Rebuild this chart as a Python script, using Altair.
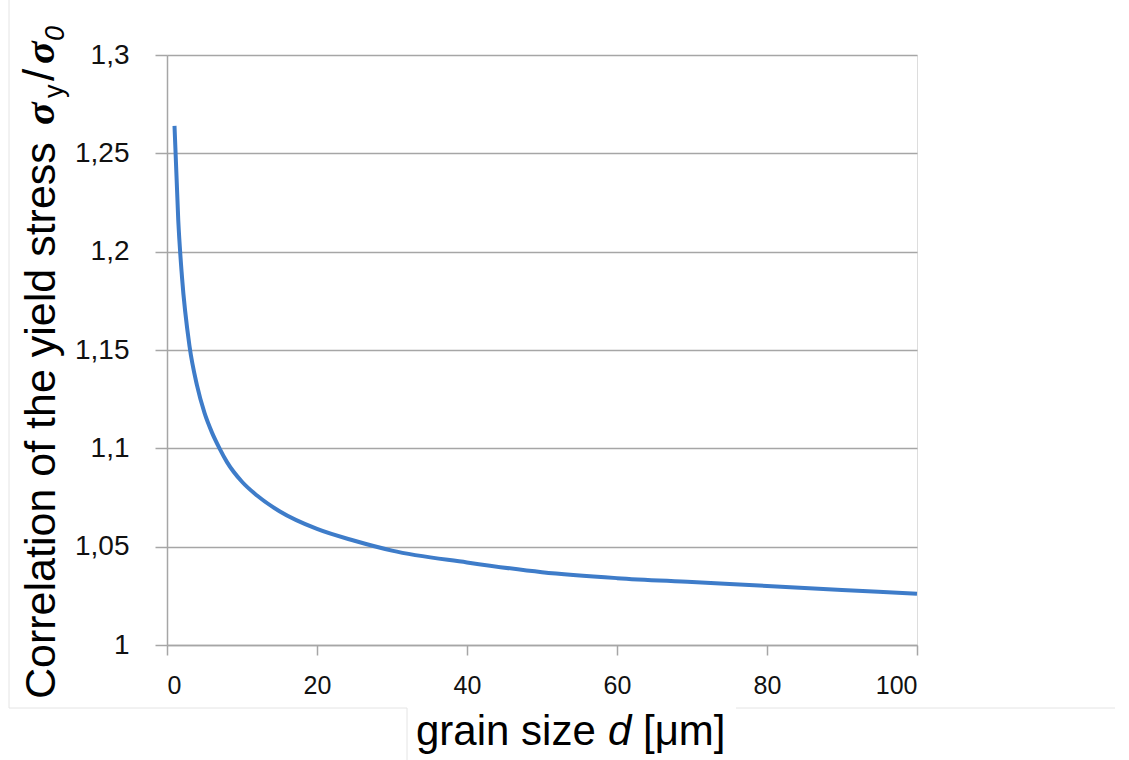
import altair as alt
import pandas as pd

# ---- data ----
grain_size = [1, 1.5, 2, 3, 4, 5, 6, 7, 8, 10, 12, 15, 20, 25, 30, 40, 50, 60, 70, 80, 90, 100]
yield_ratio = [1.264, 1.216, 1.187, 1.152, 1.132, 1.118, 1.108, 1.100, 1.093, 1.083, 1.076,
               1.068, 1.059, 1.053, 1.048, 1.042, 1.037, 1.034, 1.032, 1.030, 1.028, 1.026]
x_ticks = [0, 20, 40, 60, 80, 100]
y_ticks = [1.0, 1.05, 1.1, 1.15, 1.2, 1.25, 1.3]

y_title_main = "Correlation of the yield stress"
x_title_parts = ["grain size", "d", "[μm]"]

df = pd.DataFrame({"d": grain_size, "r": yield_ratio})

GRID = "#a6a6a6"
SANS = "Liberation Sans, Arial, sans-serif"

x_enc = alt.X("d:Q", scale=alt.Scale(domain=[0, 100], nice=False),
              axis=alt.Axis(values=x_ticks, title=None, grid=False,
                            domainColor=GRID, domainWidth=1.5,
                            tickColor=GRID, tickWidth=1.5, tickSize=10,
                            labelFont=SANS, labelFontSize=25, labelColor="#111111",
                            labelPadding=18))
y_enc = alt.Y("r:Q", scale=alt.Scale(domain=[1.0, 1.3], nice=False, zero=False),
              axis=alt.Axis(values=y_ticks, title=None, grid=True,
                            gridColor=GRID, gridWidth=1.5,
                            domainColor=GRID, domainWidth=1.5,
                            tickColor=GRID, tickWidth=1.5, tickSize=12,
                            labelFont=SANS, labelFontSize=28, labelColor="#111111",
                            labelPadding=26,
                            labelExpr="replace(format(datum.value, '.2~f'), '.', ',')"))

line = alt.Chart(df).mark_line(color="#3e7cc9", strokeWidth=4, interpolate="monotone").encode(
    x=x_enc, y=y_enc)


def txt(s, x, y, size, angle=0, font=SANS, weight="normal", style="normal"):
    return alt.Chart(pd.DataFrame({"t": [s]})).mark_text(
        align="left", baseline="alphabetic", angle=angle, font=font,
        fontSize=size, fontWeight=weight, fontStyle=style, color="#000000"
    ).encode(text="t:N", x=alt.value(x), y=alt.value(y))


SERIF = "Liberation Serif, DejaVu Serif, serif"
texts = [
    # y-axis title (rotated)
    txt(y_title_main, -112, 644, 43, angle=270),
    txt("σ", -113, 70, 42, angle=270, font=SERIF, weight="bold", style="italic"),
    txt("y", -104, 43, 27, angle=270),
    txt("/", -113, 26, 44, angle=270),
    txt("σ", -113, 9, 42, angle=270, font=SERIF, weight="bold", style="italic"),
    txt("0", -103, -14, 27, angle=270, style="italic"),
    # x-axis title
    txt(x_title_parts[0], 249, 690, 42),
    txt(x_title_parts[1], 441, 690, 42, style="italic"),
    txt(x_title_parts[2], 476, 690, 42),
]

FAINT = "#e4e4e4"


def rule(x, y, x2, y2):
    return alt.Chart(pd.DataFrame({"k": [0]})).mark_rule(color=FAINT, strokeWidth=1).encode(
        x=alt.value(x), y=alt.value(y), x2=alt.value(x2), y2=alt.value(y2))


frame = [
    rule(-158, -55, -158, 653),
    rule(-158, 653, 240, 653),
    rule(240, 653, 240, 705),
    rule(569, 653, 948, 653),
]

chart = alt.layer(*frame, line, *texts).properties(
    width=750, height=590,
    padding={"left": 167, "top": 55, "right": 212, "bottom": 115},
    autosize="none",
).configure_view(stroke=None).configure(background="#ffffff")

chart.save("out.html", embed_options={"renderer": "svg", "actions": False})
